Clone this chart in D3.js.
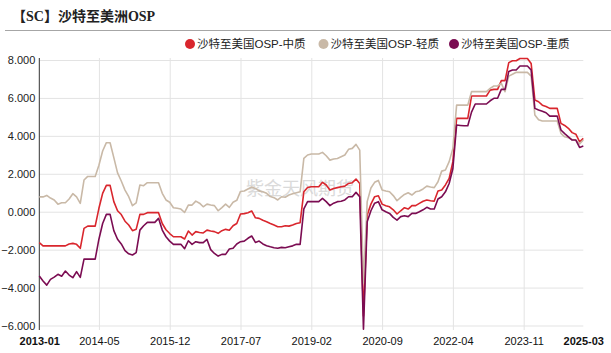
<!DOCTYPE html>
<html>
<head>
<meta charset="utf-8">
<script src="https://cdn.jsdelivr.net/npm/d3@7"></script>
<style>
  body { margin: 0; background: #fff; }
  svg { display: block; font-family: "Liberation Sans", "Noto Sans CJK SC", sans-serif; }
</style>
</head>
<body>
<svg id="chart" width="611" height="353"></svg>
<script>
// monthly OSP differentials, 2013-01 .. 2025-03
const seriesNames = ["沙特至美国OSP-中质", "沙特至美国OSP-轻质", "沙特至美国OSP-重质"];
const seriesColors = ["#d9262d", "#c9b9a7", "#7b0c52"];

const medium = [
  -1.63, -1.80, -1.80, -1.80, -1.80, -1.80, -1.80, -1.80, -1.70, -1.67, -1.72, -1.93,
  -0.88, -0.76, -0.76, -0.76, 0.18, 0.97, 1.39, 1.39, 0.53, 0.05, -0.15, -0.50,
  -0.70, -1.00, -0.93, -0.14, -0.14, -0.05, -0.05, -0.05, -0.05, -0.62, -0.95, -1.15,
  -1.32, -1.32, -1.32, -1.44, -1.02, -1.23, -1.05, -1.10, -1.12, -0.97, -1.02, -1.05,
  -1.14, -1.00, -0.93, -0.98, -0.74, -0.62, -0.12, -0.10, -0.05, 0.04, -0.32, -0.35,
  -0.45, -0.53, -0.62, -0.70, -0.79, -0.79, -0.74, -0.76, -0.70, -0.62, -0.58, 1.05,
  1.28, 1.32, 1.32, 1.32, 1.55, 1.41, 1.14, 1.22, 1.27, 1.32, 1.35, 1.49,
  1.53, 1.72, 1.49, -5.50, -0.18, 0.40, 0.79, 0.84, 0.40, 0.32, 0.26, 0.10,
  -0.12, 0.05, 0.21, 0.14, 0.32, 0.32, 0.44, 0.55, 0.62, 0.58, 0.56, 1.09,
  1.14, 1.41, 1.76, 2.64, 4.92, 4.92, 4.92, 4.92, 6.10, 6.10, 6.10, 6.10,
  6.10, 6.41, 6.45, 6.45, 6.91, 6.91, 7.86, 7.96, 7.96, 8.08, 8.08, 8.08,
  7.82, 5.89, 5.80, 5.62, 5.55, 5.45, 5.45, 5.45, 4.66, 4.55, 4.40, 4.17,
  4.09, 3.69, 3.87
];

const light = [
  0.78, 0.78, 0.86, 0.72, 0.62, 0.40, 0.47, 0.47, 0.67, 0.95, 0.78, 0.44,
  1.67, 1.86, 1.86, 1.86, 2.45, 3.20, 3.64, 3.64, 2.85, 2.05, 1.62, 1.14,
  0.79, 0.32, 0.47, 1.41, 1.37, 1.53, 1.53, 1.53, 1.53, 0.97, 0.62, 0.50,
  0.21, 0.18, 0.14, -0.04, 0.35, 0.35, 0.56, 0.45, 0.26, 0.40, 0.35, 0.32,
  0.05, 0.22, 0.40, 0.23, 0.50, 0.60, 1.07, 1.09, 1.20, 1.30, 1.23, 1.10,
  1.05, 0.97, 0.80, 0.74, 0.62, 0.79, 0.76, 0.88, 0.95, 1.00, 1.05, 2.81,
  2.99, 3.04, 3.04, 3.04, 3.13, 2.95, 2.72, 2.78, 2.81, 2.90, 2.99, 3.29,
  3.34, 3.55, 3.25, -3.75, 0.53, 1.25, 1.55, 1.65, 1.15, 1.09, 1.05, 0.85,
  0.58, 0.76, 0.91, 1.00, 0.88, 1.05, 1.09, 1.20, 1.35, 1.30, 1.27, 1.58,
  2.14, 2.20, 2.64, 3.34, 5.62, 5.62, 5.62, 5.62, 6.33, 6.33, 6.33, 6.33,
  6.33, 6.50, 6.63, 6.63, 6.77, 6.33, 7.15, 7.25, 7.35, 7.35, 7.35, 7.35,
  7.15, 5.10, 4.85, 4.78, 4.78, 4.78, 4.78, 4.78, 4.13, 3.95, 3.90, 3.80,
  3.78, 3.57, 3.78
];

const heavy = [
  -3.39, -3.65, -3.87, -3.57, -3.45, -3.30, -3.40, -3.13, -3.34, -3.48, -3.16, -3.46,
  -2.50, -2.50, -2.50, -2.50, -1.45, -0.62, -0.14, -0.14, -1.00, -1.45, -1.70, -2.05,
  -2.22, -2.28, -2.16, -0.97, -0.74, -0.56, -0.56, -0.56, -0.35, -0.97, -1.32, -1.55,
  -1.72, -1.72, -1.72, -1.95, -1.53, -1.72, -1.58, -1.63, -1.63, -1.46, -2.00, -2.20,
  -2.34, -2.25, -2.25, -1.97, -1.93, -1.70, -1.58, -1.55, -1.40, -1.28, -1.62, -1.55,
  -1.70, -1.79, -1.85, -1.90, -1.93, -1.88, -1.90, -1.85, -1.80, -1.72, -1.72, 0.15,
  0.53, 0.53, 0.53, 0.53, 0.70, 0.53, 0.32, 0.45, 0.53, 0.55, 0.62, 0.79,
  0.79, 1.02, 0.79, -6.20, -0.53, 0.05, 0.45, 0.53, 0.10, 0.00, -0.09, -0.30,
  -0.44, -0.26, -0.21, -0.26, -0.09, -0.09, 0.00, 0.10, 0.23, 0.14, 0.14, 0.67,
  0.79, 1.05, 1.49, 2.28, 4.57, 4.55, 4.53, 4.53, 5.25, 5.68, 5.68, 5.68,
  5.68, 5.85, 5.98, 5.98, 6.45, 6.45, 7.40, 7.47, 7.47, 7.68, 7.68, 7.68,
  7.47, 5.45, 5.36, 5.30, 5.22, 5.04, 5.04, 5.04, 4.31, 4.12, 3.95, 3.78,
  3.78, 3.39, 3.46
];

const xTickLabels = ["2013-01", "2014-05", "2015-12", "2017-07", "2019-02", "2020-09", "2022-04", "2023-11", "2025-03"];
const yTickValues = [-6, -4, -2, 0, 2, 4, 6, 8];

// month categories
const months = [];
for (let i = 0; i < medium.length; i++) {
  const yr = 2013 + Math.floor(i / 12), mo = i % 12 + 1;
  months.push(yr + "-" + String(mo).padStart(2, "0"));
}

const plotLeft = 39.3, plotRight = 583.3, plotTop = 60, plotBottom = 325.5;

const svg = d3.select("#chart");
svg.append("rect").attr("width", 611).attr("height", 353).attr("fill", "#fff");

// title + rule
svg.append("text")
  .attr("x", 12).attr("y", 21)
  .attr("font-family", "'Liberation Serif', 'Noto Sans CJK SC', serif")
  .attr("font-size", 14).attr("font-weight", "bold").attr("fill", "#222")
  .text("【SC】沙特至美洲OSP");
svg.append("line")
  .attr("x1", 5).attr("x2", 611).attr("y1", 30.5).attr("y2", 30.5)
  .attr("stroke", "#a6a6a6").attr("stroke-width", 1.2);

const x = d3.scalePoint().domain(months).range([plotLeft, plotRight]);
const y = d3.scaleLinear().domain([-6, 8]).range([plotBottom, plotTop]);

// y grid + labels
const yAxis = svg.append("g")
  .attr("transform", `translate(${plotLeft},0)`)
  .call(d3.axisLeft(y).tickValues(yTickValues).tickFormat(d3.format(".3f"))
    .tickSize(-(plotRight - plotLeft)).tickPadding(4));
yAxis.select(".domain").remove();
yAxis.selectAll(".tick line").attr("stroke", "#e3e3e3");
yAxis.selectAll(".tick text").attr("font-size", 11).attr("fill", "#222")
  .attr("font-family", "'Liberation Sans', Arial, sans-serif");

// x grid + labels
const xAxis = svg.append("g")
  .attr("transform", `translate(0,330)`)
  .call(d3.axisBottom(x).tickValues(xTickLabels).tickSize(-(330 - 58)).tickPadding(7));
xAxis.select(".domain").remove();
xAxis.selectAll(".tick line").attr("stroke", "#e3e3e3")
  .attr("display", (d, i) => (i === 0 || i === xTickLabels.length - 1) ? "none" : null);
xAxis.selectAll(".tick text").attr("font-size", 11).attr("fill", "#111")
  .attr("font-family", "'Liberation Sans', Arial, sans-serif")
  .attr("font-weight", (d, i) => (i === 0 || i === xTickLabels.length - 1) ? "bold" : "normal");

// y axis line
svg.append("line")
  .attr("x1", plotLeft).attr("x2", plotLeft).attr("y1", 58).attr("y2", 330)
  .attr("stroke", "#333").attr("stroke-width", 1);

// watermark
svg.append("text")
  .attr("x", 246).attr("y", 195)
  .attr("font-size", 18).attr("fill", "#d2d2d2").attr("opacity", 0.8)
  .text("紫金天风期货");

// lines
const line = d3.line()
  .x((d, i) => x(months[i]))
  .y(d => y(d));

[medium, light, heavy].forEach((vals, k) => {
  svg.append("path")
    .datum(vals)
    .attr("fill", "none")
    .attr("stroke", seriesColors[k])
    .attr("stroke-width", 1.6)
    .attr("stroke-linejoin", "round")
    .attr("d", line);
});

// legend
const legendX = [190, 323.5, 454];
const legend = svg.append("g");
seriesNames.forEach((name, k) => {
  legend.append("circle")
    .attr("cx", legendX[k]).attr("cy", 44).attr("r", 5)
    .attr("fill", seriesColors[k]);
  legend.append("text")
    .attr("x", legendX[k] + 7).attr("y", 44)
    .attr("dominant-baseline", "central")
    .attr("font-size", 11.5).attr("fill", "#222")
    .text(name);
});
</script>
</body>
</html>
